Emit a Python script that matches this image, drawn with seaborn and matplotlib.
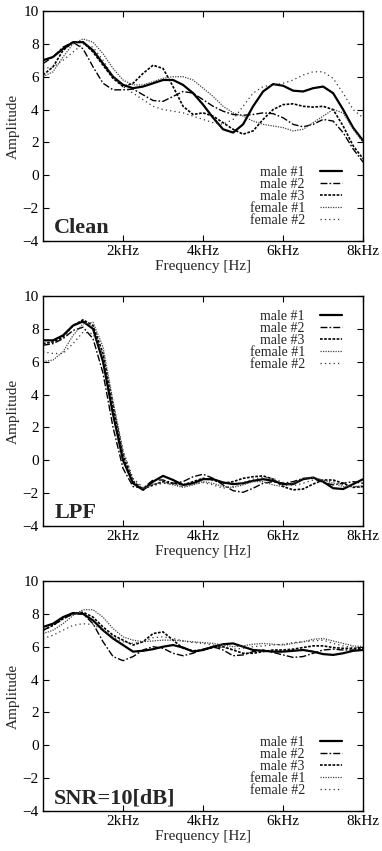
import numpy as np
import matplotlib
matplotlib.use("Agg")
import matplotlib.pyplot as plt
import seaborn as sns

# frequency grid (Hz) the curves were read on
freq = np.arange(0, 8001, 250)

speakers = ["male #1", "male #2", "male #3", "female #1", "female #2"]

# Clean
clean_m1 = [7.0, 7.2, 7.7, 8.1, 8.1, 7.6, 6.8, 6.0, 5.5, 5.3, 5.4, 5.6, 5.8, 5.8, 5.5, 5.0, 4.3,
            3.5, 2.8, 2.6, 3.1, 4.2, 5.1, 5.55, 5.45, 5.15, 5.1, 5.3, 5.4, 5.0, 4.0, 2.9, 2.1]
clean_m2 = [6.8, 7.2, 7.8, 8.1, 7.7, 6.6, 5.6, 5.2, 5.2, 5.25, 4.9, 4.55, 4.5, 4.8, 5.1, 5.0, 4.6,
            4.2, 3.9, 3.7, 3.65, 3.7, 3.8, 3.75, 3.5, 3.1, 2.95, 3.1, 3.4, 3.3, 2.6, 1.6, 0.8]
clean_m3 = [6.1, 6.6, 7.6, 8.1, 8.1, 7.5, 6.7, 5.9, 5.4, 5.6, 6.2, 6.7, 6.5, 5.4, 4.2, 3.7, 3.8,
            3.6, 3.2, 2.8, 2.5, 2.7, 3.4, 4.0, 4.3, 4.35, 4.2, 4.15, 4.2, 4.0, 3.0, 1.8, 1.0]
clean_f1 = [6.0, 6.3, 7.2, 8.0, 8.3, 8.1, 7.4, 6.5, 5.8, 5.5, 5.5, 5.7, 5.9, 6.0, 6.0, 5.8, 5.3,
            4.8, 4.2, 3.8, 3.6, 3.3, 3.1, 3.0, 2.9, 2.7, 2.8, 3.2, 3.6, 4.0, 3.8, 2.8, 2.0]
clean_f2 = [6.5, 6.6, 7.0, 7.5, 8.0, 7.8, 7.0, 6.0, 5.4, 5.0, 4.6, 4.2, 4.0, 3.9, 3.8, 3.6, 3.4,
            3.2, 3.1, 3.4, 4.2, 5.0, 5.4, 5.5, 5.6, 5.8, 6.1, 6.3, 6.3, 5.9, 5.0, 4.0, 3.5]

# LPF
lpf_m1 = [7.3, 7.3, 7.6, 8.2, 8.45, 8.0, 6.0, 2.8, 0.0, -1.4, -1.8, -1.3, -0.95, -1.2, -1.5, -1.4, -1.15,
          -1.15, -1.35, -1.45, -1.4, -1.25, -1.15, -1.25, -1.45, -1.45, -1.15, -1.05, -1.3, -1.7, -1.75, -1.45, -1.15]
lpf_m2 = [7.0, 7.1, 7.4, 7.9, 8.1, 7.4, 5.3, 2.0, -0.5, -1.6, -1.7, -1.2, -1.2, -1.4, -1.3, -1.0, -0.85,
          -1.1, -1.5, -1.85, -1.95, -1.7, -1.4, -1.3, -1.4, -1.3, -1.1, -1.1, -1.35, -1.5, -1.4, -1.3, -1.4]
lpf_m3 = [7.1, 7.2, 7.5, 8.2, 8.55, 8.2, 6.5, 3.3, 0.3, -1.3, -1.75, -1.5, -1.3, -1.4, -1.5, -1.3, -1.1,
          -1.2, -1.4, -1.3, -1.1, -1.0, -0.95, -1.15, -1.6, -1.8, -1.75, -1.45, -1.2, -1.2, -1.4, -1.65, -1.6]
lpf_f1 = [6.0, 6.1, 6.6, 7.6, 8.3, 8.4, 6.9, 3.6, 0.5, -1.2, -1.75, -1.45, -1.35, -1.5, -1.65, -1.5, -1.3,
          -1.4, -1.6, -1.65, -1.5, -1.3, -1.3, -1.5, -1.6, -1.4, -1.1, -1.05, -1.2, -1.4, -1.6, -1.6, -1.55]
lpf_f2 = [6.6, 6.5, 6.5, 7.1, 7.8, 7.7, 6.4, 3.5, 0.6, -1.1, -1.65, -1.55, -1.4, -1.45, -1.6, -1.45, -1.35,
          -1.5, -1.7, -1.6, -1.35, -1.15, -1.05, -1.1, -1.35, -1.55, -1.4, -1.2, -1.2, -1.3, -1.5, -1.6, -1.65]

# SNR = 10 dB
snr_m1 = [7.2, 7.4, 7.8, 8.05, 8.0, 7.6, 7.0, 6.5, 6.1, 5.7, 5.75, 5.85, 6.0, 6.1, 5.95, 5.7, 5.8,
          6.0, 6.15, 6.2, 6.0, 5.8, 5.75, 5.7, 5.7, 5.75, 5.8, 5.7, 5.55, 5.5, 5.6, 5.75, 5.8]
snr_m2 = [7.0, 7.3, 7.7, 8.0, 8.0, 7.4, 6.3, 5.4, 5.15, 5.4, 5.8, 6.0, 5.9, 5.6, 5.45, 5.6, 5.85,
          6.0, 5.8, 5.45, 5.5, 5.7, 5.8, 5.65, 5.5, 5.35, 5.4, 5.6, 5.8, 5.85, 5.8, 5.8, 5.8]
snr_m3 = [7.0, 7.3, 7.7, 8.0, 8.1, 7.8, 7.2, 6.7, 6.4, 6.1, 6.3, 6.8, 6.9, 6.4, 5.9, 5.75, 5.8,
          5.95, 6.0, 5.8, 5.6, 5.6, 5.7, 5.8, 5.8, 5.85, 5.95, 6.05, 6.05, 5.95, 5.9, 5.9, 5.9]
snr_f1 = [6.8, 7.0, 7.4, 7.9, 8.25, 8.25, 7.8, 7.1, 6.6, 6.4, 6.3, 6.35, 6.4, 6.4, 6.35, 6.3, 6.25,
          6.2, 6.1, 6.0, 6.05, 6.15, 6.2, 6.15, 6.1, 6.2, 6.3, 6.45, 6.5, 6.35, 6.2, 6.05, 6.0]
snr_f2 = [6.5, 6.7, 7.0, 7.3, 7.4, 7.35, 7.0, 6.6, 6.3, 6.2, 6.3, 6.55, 6.6, 6.5, 6.35, 6.25, 6.2,
          6.1, 5.95, 5.85, 5.9, 6.0, 6.05, 6.1, 6.15, 6.25, 6.3, 6.35, 6.4, 6.2, 6.05, 5.95, 5.9]

xtick_pos = [2000, 4000, 6000, 8000]
xtick_labels = ["2kHz", "4kHz", "6kHz", "8kHz"]
ytick_pos = [-4, -2, 0, 2, 4, 6, 8, 10]

panels = [
    ("Clean", [clean_m1, clean_m2, clean_m3, clean_f1, clean_f2], 0.7168, "lower"),
    ("LPF", [lpf_m1, lpf_m2, lpf_m3, lpf_f1, lpf_f2], 0.3819, "upper"),
    ("SNR=10[dB]", [snr_m1, snr_m2, snr_m3, snr_f1, snr_f2], 0.0470, "lower"),
]

styles = [
    dict(color="black", linewidth=1.6, linestyle="-"),
    dict(color="black", linewidth=1.0, linestyle=(0, (5, 1.5, 1.2, 1.5))),
    dict(color="black", linewidth=1.2, linestyle=(0, (1.6, 0.9))),
    dict(color="#444444", linewidth=0.9, linestyle=(0, (1, 1))),
    dict(color="#333333", linewidth=0.9, linestyle=(0, (1, 2.5))),
]

sns.set_style("ticks")
plt.rcParams["font.family"] = ["Liberation Serif", "DejaVu Serif"]
plt.rcParams["xtick.direction"] = "in"
plt.rcParams["ytick.direction"] = "in"
plt.rcParams["xtick.top"] = True
plt.rcParams["ytick.right"] = True

fig = plt.figure(figsize=(3.82, 8.51), dpi=100)

for title, series, bottom, legpos in panels:
    ax = fig.add_axes([0.1126, bottom, 0.838, 0.2703])
    for name, vals, st in zip(speakers, series, styles):
        sns.lineplot(x=freq, y=vals, ax=ax, label=name, **st)
    ax.set_xlim(0, 8000)
    ax.set_ylim(-4, 10)
    ax.set_xticks(xtick_pos)
    ax.set_xticklabels(xtick_labels)
    ax.set_yticks(ytick_pos)
    ax.tick_params(labelsize=11, length=4, width=0.8, colors="black", pad=3)
    for s in ax.spines.values():
        s.set_linewidth(1.0)
        s.set_color("black")
    ax.set_xlabel("Frequency [Hz]", fontsize=11, labelpad=1)
    ax.set_ylabel("Amplitude", fontsize=11, labelpad=2)
    ax.text(0.035, 0.012, title, transform=ax.transAxes, fontsize=16,
            fontweight="bold", ha="left", va="bottom")
    anchor_y = 0.328 if legpos == "lower" else 0.941
    ax.legend(loc="upper right", bbox_to_anchor=(0.935, anchor_y), frameon=False,
              markerfirst=False, fontsize=10, labelspacing=-0.07, handlelength=1.6,
              handletextpad=1.1, borderpad=0, borderaxespad=0)

fig.savefig("out.png", dpi=100)
